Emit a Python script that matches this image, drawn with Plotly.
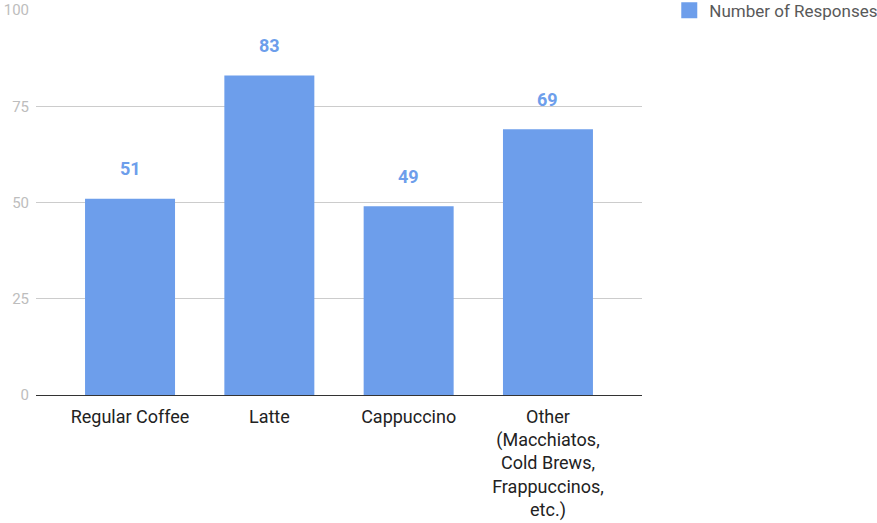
import plotly.graph_objects as go

categories = ["Regular Coffee", "Latte", "Cappuccino",
              "Other<br>(Macchiatos,<br>Cold Brews,<br>Frappuccinos,<br>etc.)"]
responses = [51, 83, 49, 69]
y_ticks = [0, 25, 50, 75, 100]
series_name = "Number of Responses"

BLUE = "#6d9eeb"
xs = list(range(len(categories)))

fig = go.Figure()
fig.add_trace(go.Bar(
    x=xs, y=responses, name=series_name,
    marker=dict(color=BLUE, line=dict(width=0)),
    width=0.646, showlegend=False,
    hoverinfo="y",
))
# legend entry (square swatch)
fig.add_trace(go.Scatter(
    x=[None], y=[None], mode="markers", name=series_name,
    marker=dict(symbol="square", size=16, color=BLUE, line=dict(width=0)),
    showlegend=True,
))

for x, v in zip(xs, responses):
    fig.add_annotation(x=x, y=v, text=f"<b>{v}</b>", showarrow=False,
                       yshift=30, font=dict(size=18, color=BLUE, family="Roboto"))

fig.update_layout(
    width=877, height=523,
    margin=dict(l=36, r=235, t=10, b=128, autoexpand=False),
    paper_bgcolor="white", plot_bgcolor="white",
    font=dict(family="Roboto"),
    showlegend=True,
    legend=dict(x=1.045, y=1.045, xanchor="left", yanchor="top",
                font=dict(size=17, color="#595959", family="Roboto")),
    xaxis=dict(
        tickmode="array", tickvals=xs, ticktext=categories,
        range=[-0.675, 3.675], showgrid=False, zeroline=False,
        showline=True, linecolor="#333333", linewidth=1,
        ticks="", tickfont=dict(size=18, color="#222222"),
        ticklabelstandoff=5,
    ),
    yaxis=dict(
        range=[0, 100], tickmode="array", tickvals=y_ticks,
        showgrid=True, gridcolor="#cccccc", gridwidth=1,
        zeroline=False, showline=False, ticks="",
        tickfont=dict(size=15, color="#bdbdbd"), ticklabelstandoff=6,
    ),
)

fig.write_html("out.html")
